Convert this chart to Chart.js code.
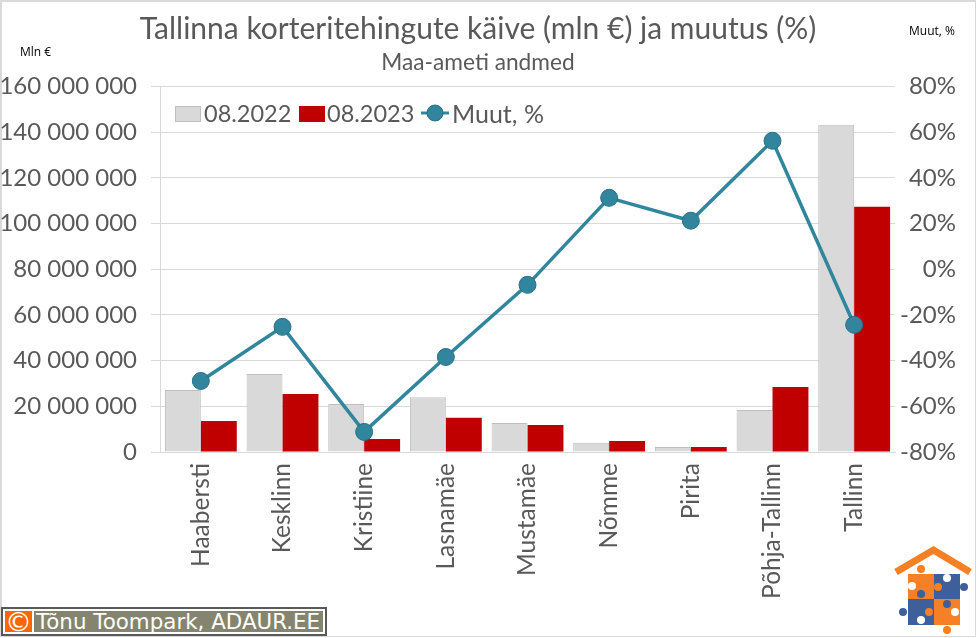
<!DOCTYPE html>
<html>
<head>
<meta charset="utf-8">
<script src="https://cdn.jsdelivr.net/npm/chart.js@4"></script>
<style>
  html, body { margin: 0; padding: 0; background: #fff; overflow: hidden; }
  #wrap { position: relative; width: 976px; height: 638px; font-family: Lato, sans-serif; }
  #frame { position: absolute; left: 0; top: 0; width: 976px; height: 637px; box-sizing: border-box; border: 1px solid #d9d9d9; border-left-width: 2px; border-top-width: 2px; }
  canvas { position: absolute; left: 0; top: 0; }
  .nota { position: absolute; font-size: 12px; color: #000; font-family: "Open Sans", sans-serif; }
  #leyenda { position: absolute; left: 175px; top: 98px; height: 30px; font-size: 25px; line-height: 30px; color: #595959; white-space: nowrap; }
  #leyenda span, #leyenda svg, #leyenda i { position: absolute; top: 0; }
  #leyenda i { display: block; box-sizing: border-box; width: 26px; height: 16px; top: 8px; }
  #leyenda span.fecha { font-size: 23.5px; }
  #copy { position: absolute; left: 1px; top: 607px; width: 326px; height: 29px; box-sizing: border-box; border: 2px solid #595959; background: #fff; }
  #copy b { position: absolute; left: 2px; top: 2px; width: 27px; height: 21px; background: #ff6600; color: #fff; font: 400 27px/22px "DejaVu Sans"; text-align: center; overflow: hidden; }
  #copy span { position: absolute; left: 31px; top: 2px; width: 289px; height: 21px; background: #85856f; color: #fff; font: 400 21.4px/22px "DejaVu Sans"; padding-left: 2px; box-sizing: border-box; white-space: nowrap; overflow: hidden; }
  #logo { position: absolute; left: 890px; top: 542px; }
</style>
</head>
<body>
<div id="wrap">
  <div id="frame"></div>
  <canvas id="grafico" width="976" height="638"></canvas>
  <div class="nota" style="left:20px;top:43px">Mln €</div>
  <div class="nota" style="left:909px;top:22px">Muut, %</div>
  <div id="leyenda">
    <i style="left:0;background:#d9d9d9;border:1px solid #bfbfbf"></i><span class="fecha" style="left:29px">08.2022</span>
    <i style="left:124px;background:#c00000"></i><span class="fecha" style="left:152px">08.2023</span>
    <svg style="left:242px;top:2px" width="34" height="26"><line x1="4" y1="13" x2="32" y2="13" stroke="#31859c" stroke-width="3"/><circle cx="18" cy="13" r="8" fill="#31859c" stroke="#2a7086"/></svg>
    <span style="left:277px">Muut, %</span>
  </div>
  <div id="copy"><b>©</b><span>Tõnu Toompark, ADAUR.EE</span></div>
  <svg id="logo" width="84" height="92" viewBox="890 542 84 92">
    <polyline points="896,572 933.5,550 970,572" fill="none" stroke="#f58025" stroke-width="7"/>
    <rect x="908" y="574" width="26" height="25" fill="#f58025"/>
    <rect x="934" y="574" width="26" height="25" fill="#3f5f9b"/>
    <rect x="908" y="599" width="26" height="26" fill="#3f5f9b"/>
    <rect x="934" y="599" width="26" height="26" fill="#f58025"/>
    <circle cx="921" cy="569" r="4" fill="#f58025"/>
    <circle cx="912" cy="586" r="4" fill="#fff"/>
    <circle cx="938" cy="587" r="4" fill="#f58025"/>
    <circle cx="947" cy="578" r="4" fill="#fff"/>
    <circle cx="964" cy="587" r="4" fill="#3f5f9b"/>
    <circle cx="921" cy="594" r="4" fill="#3f5f9b"/>
    <circle cx="903" cy="612" r="4" fill="#3f5f9b"/>
    <circle cx="929" cy="612" r="4" fill="#f58025"/>
    <circle cx="947" cy="604" r="4" fill="#3f5f9b"/>
    <circle cx="955" cy="612" r="4" fill="#fff"/>
    <circle cx="921" cy="620" r="4" fill="#fff"/>
    <circle cx="947" cy="630" r="4" fill="#f58025"/>
  </svg>
</div>
<script>
const piirkonnad = ['Haabersti', 'Kesklinn', 'Kristiine', 'Lasnamäe', 'Mustamäe', 'Nõmme', 'Pirita', 'Põhja-Tallinn', 'Tallinn'];
const kaive2022 = [27200000, 34200000, 21000000, 24000000, 12700000, 4000000, 2200000, 18400000, 143300000];
const kaive2023 = [13600000, 25400000, 5700000, 15000000, 11800000, 4800000, 2200000, 28500000, 107400000];
const muutus = [-48.9, -25.2, -71.2, -38.4, -6.8, 31.3, 21.3, 56.3, -24.3];

const HALL = '#595959';
const JOON = '#d9d9d9';

var ctx = document.getElementById('grafico').getContext('2d');
var graafik = new Chart(ctx, {
  type: 'bar',
  data: {
    labels: piirkonnad,
    datasets: [
      { label: '08.2022', data: kaive2022, yAxisID: 'y', order: 1, backgroundColor: '#d9d9d9', borderColor: '#bfbfbf', borderWidth: 1, barPercentage: 1, categoryPercentage: 0.88 },
      { label: '08.2023', data: kaive2023, yAxisID: 'y', order: 1, backgroundColor: '#c00000', barPercentage: 1, categoryPercentage: 0.88 },
      { label: 'Muut, %', type: 'line', data: muutus, yAxisID: 'y1', order: 0, borderColor: '#31859c', borderWidth: 3.5, backgroundColor: '#31859c', pointBackgroundColor: '#31859c', pointBorderColor: '#2a7086', pointBorderWidth: 1, pointRadius: 8.5, tension: 0 }
    ]
  },
  options: {
    responsive: false,
    animation: false,
    layout: { padding: { right: 20 } },
    plugins: {
      legend: { display: false },
      tooltip: { enabled: false },
      title: { display: true, text: 'Tallinna korteritehingute käive (mln €) ja muutus (%)', color: HALL, font: { family: 'Lato', size: 30, weight: 'normal', lineHeight: 1.2 }, padding: { top: 11, bottom: 0 } },
      subtitle: { display: true, text: 'Maa-ameti andmed', color: HALL, font: { family: 'Lato', size: 22.7, weight: 'normal', lineHeight: 1.2 }, padding: { top: 2.5, bottom: 9.9 } }
    },
    scales: {
      x: {
        grid: { display: false },
        border: { color: JOON },
        ticks: { color: HALL, font: { family: 'Lato', size: 24.5 }, minRotation: 90, maxRotation: 90, autoSkip: false, padding: 3 },
        afterFit: function (scale) { scale.height = 186; }
      },
      y: {
        min: 0, max: 160000000,
        grid: { color: JOON, tickLength: 9, tickColor: JOON },
        border: { color: JOON },
        ticks: { stepSize: 20000000, color: HALL, padding: 14, font: { family: 'Lato', size: 24 }, callback: function (v) { return v.toString().replace(/\B(?=(\d{3})+(?!\d))/g, ' '); } },
        afterFit: function (scale) { scale.width = 160; }
      },
      y1: {
        position: 'right',
        min: -80, max: 80,
        grid: { display: false, drawTicks: false },
        border: { display: false },
        ticks: { stepSize: 20, color: HALL, padding: 8, crossAlign: 'far', font: { family: 'Lato', size: 24 }, callback: function (v) { return v + '%'; } },
        afterFit: function (scale) { scale.width = 61; }
      }
    }
  }
});
</script>
</body>
</html>
